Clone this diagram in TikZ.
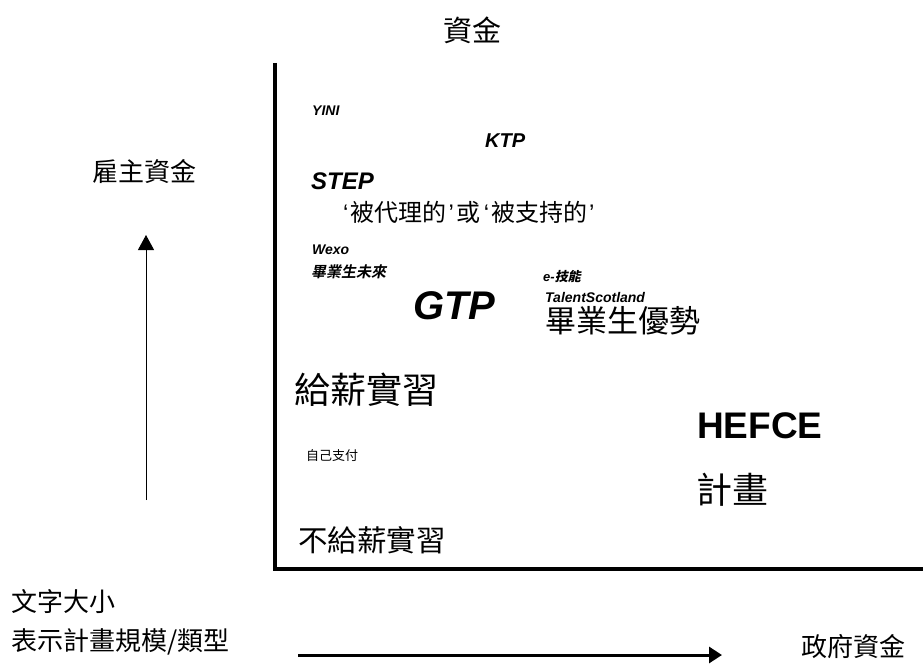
\documentclass[tikz,border=0pt]{standalone}
\usepackage{fontspec}
\setmainfont{Liberation Sans}
\newfontfamily\cjk{Noto Sans CJK TC}
\newfontfamily\cjkbi[FakeSlant=0.2]{Noto Sans CJK TC Bold}
\usetikzlibrary{arrows.meta}
\newcommand{\fsz}[1]{\fontsize{#1}{#1}\selectfont}
\newcommand{\openq}{\hspace{3pt}{\rmfamily ‘}\hspace{2pt}}
\newcommand{\closeq}{\hspace{2pt}{\rmfamily ’}\hspace{3pt}}

\begin{document}
\begin{tikzpicture}[
    x=1pt, y=-1pt,
    lbl/.style={anchor=west, inner sep=0pt},
    prog/.style={anchor=west, inner sep=0pt},
    axis/.style={line width=3.5pt},
    uparrow/.style={line width=1pt, -{Triangle[length=15pt, width=16pt]}},
    rightarrow/.style={line width=3pt, -{Triangle[length=13pt, width=16pt]}}
]
\useasboundingbox (0,0) rectangle (923,666);

% axes of the chart
\coordinate (ytop) at (275,63);
\coordinate (origin) at (275,569);
\coordinate (xend) at (925,569);
\draw[axis] (ytop) -- (origin) -- (xend);

% axis titles
\node[font=\cjk\fsz{29}] (funding) at (472,30) {資金};
\node[lbl, font=\cjk\fsz{26}] (employer) at (92,172) {雇主資金};
\node[lbl, font=\cjk\fsz{26}] (textsize) at (11,602) {文字大小};
\node[lbl, font=\cjk\fsz{26}] (scale) at (11,642) {表示計畫規模/類型};
\node[lbl, font=\cjk\fsz{26}] (govt) at (801,647) {政府資金};

% direction arrows
\coordinate (upbot) at (146,500);
\coordinate (uptip) at (146,235);
\draw[uparrow] (upbot) -- (uptip);
\coordinate (rightstart) at (298,655);
\coordinate (righttip) at (722,655);
\draw[rightarrow] (rightstart) -- (righttip);

% schemes
\node[prog, font=\fsz{14}\bfseries\itshape] (yini) at (312,111) {YINI};
\node[prog, font=\fsz{20}\bfseries\itshape] (ktp) at (485,141) {KTP};
\node[prog, font=\fsz{24}\bfseries\itshape] (stepscheme) at (311,181) {STEP};
\node[lbl, font=\cjk\fsz{24}] (agency) at (340,212) {\openq 被代理的\closeq 或\openq 被支持的\closeq};
\node[prog, font=\fsz{14}\bfseries\itshape] (wexo) at (312,250) {Wexo};
\node[prog, font=\cjkbi\fsz{15}] (gradfuture) at (311,272) {畢業生未來};
\node[prog, font=\fsz{13}\bfseries\itshape] (eskills) at (543,277) {e-{\cjkbi 技能}};
\node[prog, font=\fsz{40}\bfseries\itshape] (gtp) at (413,306) {GTP};
\node[prog, font=\fsz{14}\bfseries\itshape] (talent) at (545,297) {TalentScotland};
\node[lbl, font=\cjk\fsz{31}] (gradadv) at (545,321) {畢業生優勢};
\node[lbl, font=\cjk\fsz{36}] (paid) at (294,390) {給薪實習};
\node[prog, font=\fsz{37}\bfseries] (hefce) at (697,426) {HEFCE};
\node[lbl, font=\cjk\fsz{13}] (selfpay) at (306,456) {自己支付};
\node[lbl, font=\cjk\fsz{36}] (schemes) at (696,490) {計畫};
\node[lbl, font=\cjk\fsz{29.5}] (unpaid) at (298,540) {不給薪實習};

\end{tikzpicture}
\end{document}
